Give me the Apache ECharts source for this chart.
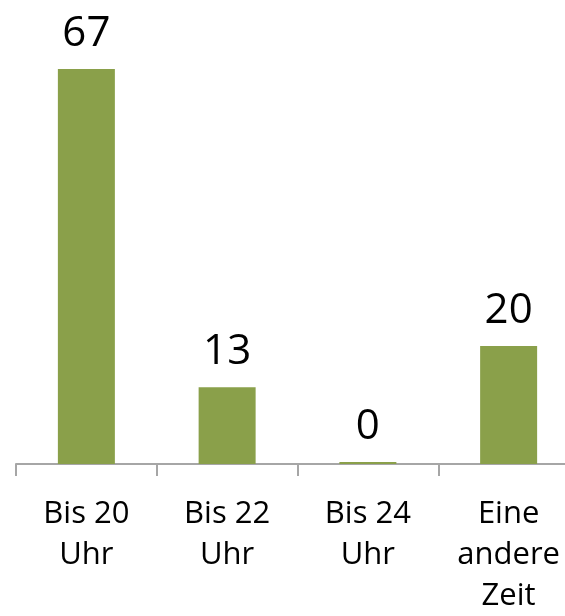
<!DOCTYPE html>
<html>
<head>
<meta charset="utf-8">
<style>
  html, body { margin: 0; padding: 0; background: #fff; overflow: hidden; }
  /* etwas breiter als das Fenster, damit die Achse rechts hinausläuft */
  #chart { width: 580px; height: 616px; }
</style>
<script src="https://cdn.jsdelivr.net/npm/echarts@6/dist/echarts.min.js"></script>
</head>
<body>
<div id="chart"></div>
<script>
// Kategorien und Werte
const categories = ['Bis 20\nUhr', 'Bis 22\nUhr', 'Bis 24\nUhr', 'Eine\nandere\nZeit'];
const values = [67, 13, 0, 20];

const chart = echarts.init(document.getElementById('chart'));

const option = {
  animation: false,
  // outerBoundsMode none: das Raster nicht wegen der Beschriftung verkleinern
  grid: { left: 16, right: 1, top: 69, bottom: 152, outerBoundsMode: 'none', containLabel: false },
  xAxis: {
    type: 'category',
    data: categories,
    axisLine: { lineStyle: { color: '#a6a6a6', width: 2 } },
    axisTick: { show: true, length: 12, lineStyle: { color: '#a6a6a6', width: 2 } },
    axisLabel: {
      fontFamily: 'Open Sans',
      fontSize: 31,
      lineHeight: 41,
      color: '#000',
      margin: 30,
      interval: 0
    }
  },
  yAxis: {
    type: 'value',
    min: 0,
    max: 67,
    show: false,
    splitLine: { show: false }
  },
  series: [{
    type: 'bar',
    data: values,
    barWidth: 57,
    barMinHeight: 2,
    itemStyle: { color: '#8aa04a' },
    label: {
      show: true,
      position: 'top',
      distance: 14,
      fontFamily: 'Open Sans',
      fontSize: 42,
      color: '#000'
    }
  }]
};

chart.setOption(option);
</script>
</body>
</html>
